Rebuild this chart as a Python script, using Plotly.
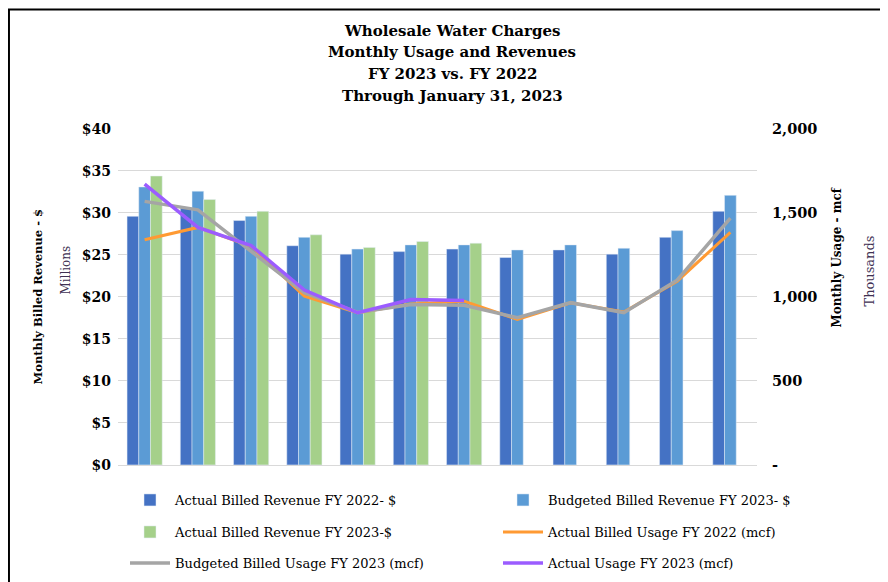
import plotly.graph_objects as go

# months Feb 2022 .. Jan 2023 (no labels shown on the x axis)
months = list(range(12))

# revenue, $ millions
actual_rev_fy22 = [29.6, 30.6, 29.1, 26.1, 25.1, 25.4, 25.7, 24.7, 25.6, 25.1, 27.1, 30.2]
budget_rev_fy23 = [33.1, 32.6, 29.6, 27.1, 25.7, 26.2, 26.2, 25.6, 26.2, 25.8, 27.9, 32.1]
actual_rev_fy23 = [34.4, 31.6, 30.2, 27.4, 25.9, 26.6, 26.4, None, None, None, None, None]

# usage, thousands of mcf
actual_use_fy22 = [1341, 1414, 1302, 1005, 906, 958, 975, 866, 965, 910, 1094, 1385]
budget_use_fy23 = [1569, 1519, 1272, 1025, 908, 955, 950, 876, 966, 906, 1100, 1470]
actual_use_fy23 = [1672, 1414, 1306, 1041, 906, 985, 979, None, None, None, None, None]

left_ticks = [0, 5, 10, 15, 20, 25, 30, 35, 40]
left_labels = ["$" + str(v) for v in left_ticks]
right_ticks = [0, 500, 1000, 1500, 2000]
right_labels = ["-", "500", "1,000", "1,500", "2,000"]

title_lines = ["Wholesale Water Charges", "Monthly Usage and Revenues",
               "FY 2023 vs. FY 2022", "Through January 31, 2023"]

serif = "DejaVu Serif"

# page body has an 8px margin, so the figure is drawn 8px smaller
W, H = 880, 574
L, T = 110, 121            # plot area left / top in figure pixels
PW, PH = 639, 337          # plot area size


def px_x(x):
    # target-image x pixel -> paper coord
    return (x - 8 - L) / PW


def px_y(y):
    # target-image y pixel -> paper coord
    return (T + PH - (y - 8)) / PH


def cont_y(y):
    # target-image y pixel -> container coord
    return 1 - (y - 8) / H


fig = go.Figure()

fig.add_trace(go.Bar(x=months, y=actual_rev_fy22, name="Actual Billed Revenue FY 2022- $",
                     marker_color="#4472C4", legend="legend"))
fig.add_trace(go.Bar(x=months, y=budget_rev_fy23, name="Budgeted Billed Revenue FY 2023- $",
                     marker_color="#5B9BD5", legend="legend2"))
fig.add_trace(go.Bar(x=months, y=actual_rev_fy23, name="Actual Billed Revenue FY 2023-$",
                     marker_color="#A5D08A", legend="legend3"))

fig.add_trace(go.Scatter(x=months, y=actual_use_fy22, name="Actual Billed Usage FY 2022 (mcf)",
                         mode="lines", line=dict(color="#FF9A33", width=3), yaxis="y2",
                         legend="legend4"))
fig.add_trace(go.Scatter(x=months, y=budget_use_fy23, name="Budgeted Billed Usage FY 2023 (mcf)",
                         mode="lines", line=dict(color="#A5A5A5", width=3.5), yaxis="y2",
                         legend="legend5"))
fig.add_trace(go.Scatter(x=months, y=actual_use_fy23, name="Actual Usage FY 2023 (mcf)",
                         mode="lines", line=dict(color="#9B5CFF", width=3.5), yaxis="y2",
                         legend="legend6"))

# one legend box per entry: 2 columns x 3 rows
legend_style = dict(orientation="h", xref="paper", yref="container", xanchor="left",
                    yanchor="middle", itemwidth=40,
                    font=dict(size=13, family=serif, color="#000000"),
                    bgcolor="rgba(0,0,0,0)")
col_x = [px_x(125), px_x(498)]
row_y = [cont_y(500), cont_y(532), cont_y(563)]

fig.update_layout(
    width=W, height=H,
    margin=dict(l=L, r=W - L - PW, t=T, b=H - T - PH),
    paper_bgcolor="white", plot_bgcolor="white",
    font=dict(family=serif, color="#000000"),
    barmode="group", bargap=0.34, bargroupgap=0,
    showlegend=True,
    legend=dict(legend_style, x=col_x[0], y=row_y[0]),
    legend2=dict(legend_style, x=col_x[1], y=row_y[0]),
    legend3=dict(legend_style, x=col_x[0], y=row_y[1]),
    legend4=dict(legend_style, x=col_x[1], y=row_y[1]),
    legend5=dict(legend_style, x=col_x[0], y=row_y[2]),
    legend6=dict(legend_style, x=col_x[1], y=row_y[2]),
    xaxis=dict(range=[-0.5, 11.5], showticklabels=False, ticks="",
               showline=True, linecolor="#D9D9D9", linewidth=1,
               showgrid=False, zeroline=False),
    yaxis=dict(range=[0, 40], tickvals=left_ticks, ticktext=left_labels,
               tickfont=dict(size=14, family=serif, color="#000000", weight="bold"),
               showgrid=True, gridcolor="#D9D9D9", zeroline=False,
               ticks="", ticklabelstandoff=6),
    yaxis2=dict(range=[0, 2000], overlaying="y", side="right",
                tickvals=right_ticks, ticktext=right_labels,
                tickfont=dict(size=14.5, family=serif, color="#000000", weight="bold"),
                showgrid=False, zeroline=False, ticks="", ticklabelstandoff=14),
)

# title block, one annotation per line
title_y = [31, 52, 74, 96]
for line, ypix in zip(title_lines, title_y):
    fig.add_annotation(text="<b>" + line + "</b>", xref="paper", yref="paper",
                       x=px_x(452), y=px_y(ypix),
                       xanchor="center", yanchor="middle", showarrow=False,
                       font=dict(size=15, family=serif, color="#000000"))

# axis titles
fig.add_annotation(text="<b>Monthly Billed Revenue - $</b>", textangle=-90,
                   xref="paper", yref="paper", x=px_x(38), y=px_y(298),
                   xanchor="center", yanchor="middle",
                   showarrow=False, font=dict(size=11.5, family=serif, color="#000000"))
fig.add_annotation(text="Millions", textangle=-90,
                   xref="paper", yref="paper", x=px_x(66), y=px_y(271),
                   xanchor="center", yanchor="middle",
                   showarrow=False, font=dict(size=12, family=serif, color="#403152"))
fig.add_annotation(text="<b>Monthly Usage - mcf</b>", textangle=-90,
                   xref="paper", yref="paper", x=px_x(837), y=px_y(258),
                   xanchor="center", yanchor="middle",
                   showarrow=False, font=dict(size=12, family=serif, color="#000000"))
fig.add_annotation(text="Thousands", textangle=-90,
                   xref="paper", yref="paper", x=px_x(870), y=px_y(272),
                   xanchor="center", yanchor="middle",
                   showarrow=False, font=dict(size=13, family=serif, color="#403152"))

# outer frame (left / top edges sit at the figure edge)
fig.add_shape(type="rect", xref="paper", yref="paper",
              x0=-L / PW + 0.0015, x1=px_x(885), y0=-0.4, y1=(T + PH - 1) / PH,
              line=dict(color="#000000", width=2), fillcolor="rgba(0,0,0,0)")

fig.write_html("out.html")
